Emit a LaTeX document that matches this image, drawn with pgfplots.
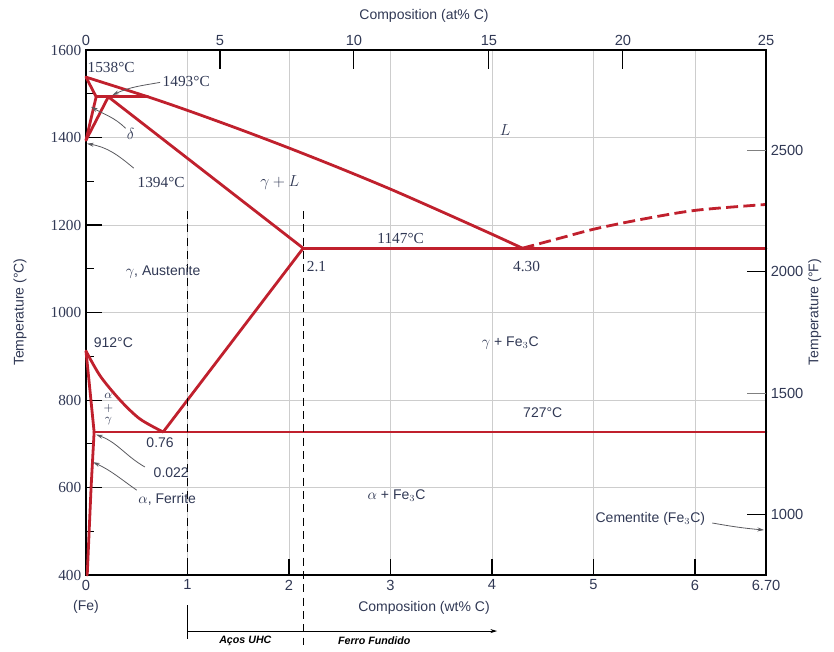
\documentclass[border=0pt]{standalone}
\usepackage{fontspec}
\setmainfont{Liberation Sans}
\newfontfamily\serifnum{Liberation Serif}
\usepackage{pgfplots}
\pgfplotsset{compat=1.18}
\usetikzlibrary{arrows.meta}
\definecolor{fered}{RGB}{192,32,45}
\definecolor{txt}{RGB}{48,56,84}
\definecolor{gridc}{RGB}{205,205,205}
\definecolor{arr}{RGB}{90,90,95}
\tikzset{
  phase/.style={fered, line width=2.1pt, line join=round, line cap=round},
  lblS/.style={text=txt, font=\serifnum\fontsize{11.5}{13}\selectfont, inner sep=1pt},
  lbl/.style={text=txt, font=\fontsize{10.5}{12}\selectfont, inner sep=1pt},
  pointer/.style={arr, line width=0.6pt, -{Stealth[length=5pt,width=3pt]}},
}
\begin{document}
\begin{tikzpicture}
\begin{axis}[
  scale only axis, width=510pt, height=393.75pt,
  xmin=0, xmax=6.7, ymin=400, ymax=1600,
  xtick={0,1,2,3,4,5,6,6.7}, xticklabels={0,1,2,3,4,5,6,6.70},
  ytick={400,600,...,1600},
  yticklabels={{\serifnum 400},{\serifnum 600},{\serifnum 800},{\serifnum 1000},{\serifnum 1200},{\serifnum 1400},{\serifnum 1600}},
  minor ytick={500,700,...,1500},
  xtick pos=bottom, ytick pos=left,
  tick align=inside,
  major tick length=12pt, minor tick length=6pt,
  grid=major, grid style={gridc, line width=0.6pt},
  axis line style={line width=0.9pt},
  every tick/.style={black, line width=0.8pt},
  clip=false,
  xticklabel style={font=\fontsize{11}{12}\selectfont, text=txt},
  yticklabel style={font=\fontsize{11.5}{12}\selectfont, text=txt},
  /pgf/number format/1000 sep={},
  /pgf/number format/assume math mode=true,
]
% liquidus
\addplot[phase, smooth] coordinates {(0,1538) (0.61,1493) (1.0,1462) (1.5,1420) (2.0,1376) (2.5,1330) (3.0,1282) (3.5,1231) (4.0,1179) (4.30,1147)};
% liquidus (dashed, hypereutectic)
\addplot[phase, smooth, dash pattern=on 9pt off 4pt, line cap=butt] coordinates {(4.30,1147) (4.67,1170) (5.03,1192) (5.52,1215) (6.02,1234) (6.70,1247)};
% peritectic
\addplot[phase] coordinates {(0.10,1493) (0.61,1493)};
% delta field
\addplot[phase] coordinates {(0,1538) (0.10,1493) (0,1394)};
% gamma solidus
\addplot[phase] coordinates {(0,1394) (0.22,1493) (2.14,1147)};
% eutectic
\addplot[phase] coordinates {(2.14,1147) (6.7,1147)};
% Acm
\addplot[phase] coordinates {(2.14,1147) (0.76,727)};
% A3
\addplot[phase, smooth] coordinates {(0,912) (0.14,855) (0.335,800) (0.53,757) (0.76,727)};
% alpha boundary
\addplot[phase] coordinates {(0,912) (0.04,820) (0.08,727)};
\addplot[phase] coordinates {(0.08,727) (0.05,600) (0.012,400)};
% eutectoid
\addplot[phase] coordinates {(0.08,727) (6.7,727)};

% vertical dashed lines
\draw[black, line width=0.9pt, dash pattern=on 6pt off 4pt] (axis cs:1,1232) -- (axis cs:1,400);
\draw[black, line width=0.9pt, dash pattern=on 6pt off 4pt] (axis cs:2.14,1232) -- (axis cs:2.14,240);
% bottom arrow
\draw[black, line width=0.6pt] (axis cs:1,331) -- (axis cs:1,254);
\draw[black, line width=0.6pt, -{Stealth[length=5pt,width=3pt]}] (axis cs:1,272) -- (axis cs:4.05,272);
\node[text=black, font=\bfseries\itshape\fontsize{8}{9}\selectfont] at (axis cs:1.57,249) {Aços UHC};
\node[text=black, font=\bfseries\itshape\fontsize{8}{9}\selectfont] at (axis cs:2.84,249) {Ferro Fundido};

% annotations
\node[lblS, anchor=west] at (axis cs:0.0,1561) {1538°C};
\node[lblS, anchor=west] at (axis cs:0.74,1527) {1493°C};
\draw[pointer] (axis cs:0.73,1526) to[out=190,in=25] (axis cs:0.26,1497);
\node[lblS] at (axis cs:0.44,1408) {$\delta$};
\draw[pointer] (axis cs:0.39,1421) to[out=135,in=-30] (axis cs:0.05,1470);
\node[lblS] at (axis cs:0.74,1298) {1394°C};
\draw[pointer] (axis cs:0.47,1330) to[out=140,in=-10] (axis cs:0.01,1386);
\node[lblS] at (axis cs:1.91,1296) {$\gamma+L$};
\node[lblS, font=\fontsize{12}{13}\selectfont] at (axis cs:4.13,1417) {$L$};
\node[lblS] at (axis cs:3.10,1170) {1147°C};
\node[lblS, anchor=west] at (axis cs:2.16,1106) {2.1};
\node[lblS] at (axis cs:4.34,1106) {4.30};
\node[lbl] at (axis cs:0.76,1093) {$\gamma$, Austenite};
\node[lbl] at (axis cs:0.27,930) {912°C};
\node[lbl] at (axis cs:4.18,930) {$\gamma$ + Fe$_3$C};
\node[lbl, inner sep=0pt, font=\fontsize{9.5}{10}\selectfont] at (axis cs:0.22,810) {$\alpha$};
\node[lbl, inner sep=0pt, font=\fontsize{9.5}{10}\selectfont] at (axis cs:0.22,781) {$+$};
\node[lbl, inner sep=0pt, font=\fontsize{9.5}{10}\selectfont] at (axis cs:0.22,751) {$\gamma$};
\node[lbl] at (axis cs:4.50,770) {727°C};
\node[lbl] at (axis cs:0.73,703) {0.76};
\node[lbl] at (axis cs:0.84,633) {0.022};
\draw[pointer] (axis cs:0.58,647) to[out=150,in=-20] (axis cs:0.10,721);
\node[lbl] at (axis cs:0.80,574) {$\alpha$, Ferrite};
\draw[pointer] (axis cs:0.50,594) to[out=145,in=-25] (axis cs:0.07,658);
\node[lbl] at (axis cs:3.06,581) {$\alpha$ + Fe$_3$C};
\node[lbl] at (axis cs:5.56,528) {Cementite (Fe$_3$C)};
\draw[pointer] (axis cs:6.17,519) to[out=-10,in=175] (axis cs:6.68,503);

% axis titles
\node[lbl] at (axis cs:0,328) {(Fe)};
\node[lbl] at (axis cs:3.33,326) {Composition (wt\% C)};
\node[lbl] at (axis cs:3.33,1678) {Composition (at\% C)};
\node[lbl, rotate=90] at (axis cs:-0.65,1001) {Temperature (°C)};
\node[lbl, rotate=90] at (axis cs:7.18,1001) {Temperature (°F)};

\coordinate (BL) at (axis cs:-0.8473,226.3);
\coordinate (TR) at (axis cs:7.3695,1714.3);
\end{axis}

\begin{axis}[
  scale only axis, width=510pt, height=393.75pt,
  xmin=0, xmax=6.7, ymin=752, ymax=2912,
  axis x line*=top, axis y line*=right,
  xtick={0,1.32,2.64,3.97,5.29,6.7}, xticklabels={0,5,10,15,20,25},
  ytick={1000,2000},
  extra y ticks={1500,2500},
  extra y tick style={tick style={gray, line width=0.8pt}},
  tick align=inside,
  major tick length=14pt,
  axis line style={line width=0.9pt},
  every tick/.style={black, line width=0.8pt},
  ticklabel style={font=\fontsize{11}{12}\selectfont, text=txt},
  /pgf/number format/1000 sep={},
  /pgf/number format/assume math mode=true,
]
\end{axis}
\pgfresetboundingbox
\path (BL) rectangle (TR);
\end{tikzpicture}
\end{document}
